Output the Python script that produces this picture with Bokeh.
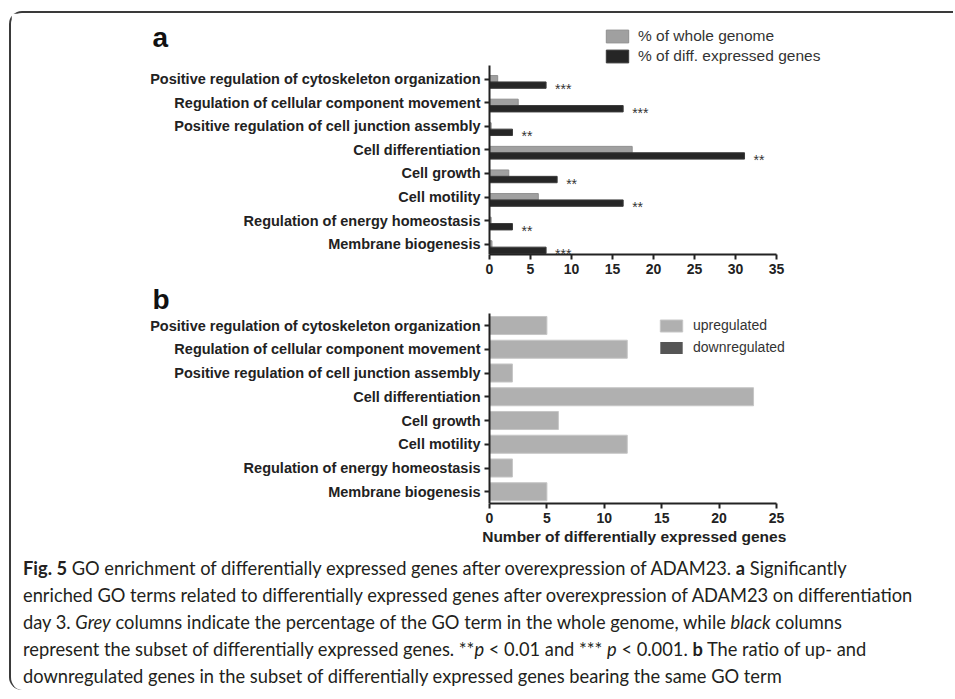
from bokeh.plotting import figure
from bokeh.models import Range1d, FixedTicker, Legend, LegendItem, Label, Div, ColumnDataSource, Title
from bokeh.layouts import column
from bokeh.embed import file_html
from bokeh.resources import INLINE
from bokeh.core.properties import value

# ---------------- data ----------------
categories = [
    "Positive regulation of cytoskeleton organization",
    "Regulation of cellular component movement",
    "Positive regulation of cell junction assembly",
    "Cell differentiation",
    "Cell growth",
    "Cell motility",
    "Regulation of energy homeostasis",
    "Membrane biogenesis",
]
whole_genome_pct = [1.0, 3.5, 0.2, 17.4, 2.35, 5.95, 0.2, 0.3]
diff_expressed_pct = [6.9, 16.3, 2.8, 31.1, 8.25, 16.3, 2.8, 6.9]
significance = ["***", "***", "**", "**", "**", "**", "**", "***"]
upregulated = [5, 12, 2, 23, 6, 12, 2, 5]
downregulated = [0, 0, 0, 0, 0, 0, 0, 0]
ticks_a = [0, 5, 10, 15, 20, 25, 30, 35]
ticks_b = [0, 5, 10, 15, 20, 25]
xlabel_b = "Number of differentially expressed genes"
legend_a = ["% of whole genome", "% of diff. expressed genes"]
legend_b = ["upregulated", "downregulated"]

FONT = "Liberation Sans"
DARK = "#222222"
idx = list(range(len(categories)))
overrides = {i: c for i, c in enumerate(categories)}

# layout geometry (page pixels)
FIG_LEFT = 11
FIG_W = 942
FRAME_L, FRAME_R = 140, 840
AXIS_X0, AXIS_X1 = 489, 776


def xrange_for(xmax):
    ppu = (AXIS_X1 - AXIS_X0) / xmax
    return Range1d((FRAME_L - AXIS_X0) / ppu, (FRAME_R - AXIS_X0) / ppu), ppu


def style_axes(p, xfont, yfont, xbounds, ybounds):
    p.xgrid.visible = False
    p.ygrid.visible = False
    p.outline_line_color = None
    p.background_fill_color = "white"
    p.border_fill_color = "white"
    for ax in (p.xaxis[0], p.yaxis[0]):
        ax.axis_line_width = 2
        ax.axis_line_color = DARK
        ax.major_tick_line_width = 2
        ax.major_tick_line_color = DARK
        ax.major_tick_out = 5
        ax.major_tick_in = 0
        ax.minor_tick_line_color = None
        ax.major_label_text_font = FONT
        ax.major_label_text_font_style = "bold"
        ax.major_label_text_color = DARK
    p.xaxis[0].major_label_text_font_size = xfont
    p.yaxis[0].major_label_text_font_size = yfont
    p.xaxis[0].major_label_standoff = 4
    p.yaxis[0].major_label_standoff = 4
    p.xaxis[0].bounds = xbounds
    p.yaxis[0].bounds = ybounds
    p.yaxis[0].fixed_location = 0
    p.yaxis[0].ticker = FixedTicker(ticks=idx)
    p.yaxis[0].major_label_overrides = overrides


# ---------------- panel a ----------------
A_TOP, A_BOT = 13, 281
A_FT, A_FB = 20, 254          # frame top / bottom (page px)
A_C0, A_PPU = 78.5, 23.6      # first category centre, px per category
xr_a, ppu_a = xrange_for(35)
yr_a = Range1d(7 + (A_FB - (A_C0 + 7 * A_PPU)) / A_PPU, (A_FT - A_C0) / A_PPU)
pa = figure(width=FIG_W, height=A_BOT - A_TOP, output_backend="svg", toolbar_location=None,
            x_range=xr_a, y_range=yr_a,
            min_border_left=FRAME_L - FIG_LEFT, min_border_right=FIG_LEFT + FIG_W - FRAME_R,
            min_border_top=A_FT - A_TOP, min_border_bottom=A_BOT - A_FB)
style_axes(pa, "14px", "14.5px", (0, 35), ((65 - A_C0) / A_PPU, yr_a.start))
pa.xaxis[0].ticker = FixedTicker(ticks=ticks_a)

src_a = ColumnDataSource(dict(
    yg=[i - 0.01 for i in idx], yb=[i + 0.26 for i in idx],
    whole=whole_genome_pct, diff=diff_expressed_pct, sig=significance))
r_grey = pa.hbar(y="yg", left=0, right="whole", height=0.27, source=src_a,
                 fill_color="#a0a0a0", line_color="#8f8f8f", line_width=1)
r_black = pa.hbar(y="yb", left=0, right="diff", height=0.27, source=src_a,
                  fill_color="#262626", line_color="#3a3a3a", line_width=1)
pa.text(x="diff", y="yb", text="sig", source=src_a, x_offset=9, y_offset=4,
        text_font=value(FONT), text_font_size="14px", text_color="#333333",
        text_baseline="middle", text_align="left")

leg_a = Legend(items=[LegendItem(label=legend_a[0], renderers=[r_grey]),
                      LegendItem(label=legend_a[1], renderers=[r_black])],
               location=(603 - FRAME_L, A_FB - 64.5), orientation="vertical",
               glyph_width=28, glyph_height=16, label_height=18, spacing=2,
               label_standoff=7, padding=0, margin=0,
               border_line_color=None, background_fill_alpha=0,
               label_text_font=FONT, label_text_font_size="15.5px",
               label_text_color="#333333")
pa.add_layout(leg_a)
pa.add_layout(Label(x=(152 - AXIS_X0) / ppu_a, y=(37 - A_C0) / A_PPU, text="a",
                    text_font=FONT, text_font_style="bold", text_font_size="28px",
                    text_color="#111111", text_baseline="alphabetic", text_align="left"))

# ---------------- panel b ----------------
B_TOP, B_BOT = 281, 552
B_FT, B_FB = 281, 503
B_C0, B_PPU = 325, 23.75
xr_b, ppu_b = xrange_for(25)
yr_b = Range1d(7 + (B_FB - (B_C0 + 7 * B_PPU)) / B_PPU, (B_FT - B_C0) / B_PPU)
pb = figure(width=FIG_W, height=B_BOT - B_TOP, output_backend="svg", toolbar_location=None,
            x_range=xr_b, y_range=yr_b,
            min_border_left=FRAME_L - FIG_LEFT, min_border_right=FIG_LEFT + FIG_W - FRAME_R,
            min_border_top=B_FT - B_TOP, min_border_bottom=B_BOT - B_FB)
style_axes(pb, "14px", "14.5px", (0, 25), ((313 - B_C0) / B_PPU, yr_b.start))
pb.xaxis[0].ticker = FixedTicker(ticks=ticks_b)
# x-axis title, left-aligned so that it is centred under the 0..25 axis
pb.add_layout(Title(text=xlabel_b, align="left", offset=481.7 - FRAME_L, standoff=0,
                    text_font=FONT, text_font_style="bold", text_font_size="15.5px",
                    text_color=DARK), "below")

src_b = ColumnDataSource(dict(
    y=idx, up=upregulated,
    upd=[u + d for u, d in zip(upregulated, downregulated)]))
r_up = pb.hbar(y="y", left=0, right="up", height=0.76, source=src_b,
               fill_color="#b0b0b0", line_color="#c6c6c6", line_width=1)
r_down = pb.hbar(y="y", left="up", right="upd", height=0.76, source=src_b,
                 fill_color="#555555", line_color=None)
leg_b = Legend(items=[LegendItem(label=legend_b[0], renderers=[r_up]),
                      LegendItem(label=legend_b[1], renderers=[r_down])],
               location=(657 - FRAME_L, B_FB - 357), orientation="vertical",
               glyph_width=28, glyph_height=15, label_height=20, spacing=2,
               label_standoff=8, padding=0, margin=0,
               border_line_color=None, background_fill_alpha=0,
               label_text_font=FONT, label_text_font_size="14px",
               label_text_color="#333333")
pb.add_layout(leg_b)
pb.add_layout(Label(x=(152 - AXIS_X0) / ppu_b, y=(299 - B_C0) / B_PPU, text="b",
                    text_font=FONT, text_font_style="bold", text_font_size="28px",
                    text_color="#111111", text_baseline="alphabetic", text_align="left"))

# ---------------- caption ----------------
caption_lines = [
    "<b>Fig. 5</b> GO enrichment of differentially expressed genes after overexpression of ADAM23. <b>a</b> Significantly",
    "enriched GO terms related to differentially expressed genes after overexpression of ADAM23 on differentiation",
    "day 3. <i>Grey</i> columns indicate the percentage of the GO term in the whole genome, while <i>black</i> columns",
    "represent the subset of differentially expressed genes. **<i>p</i> &lt; 0.01 and *** <i>p</i> &lt; 0.001. <b>b</b> The ratio of up- and",
    "downregulated genes in the subset of differentially expressed genes bearing the same GO term",
]
cap_html = ('<div style="font-family: Lato, sans-serif; font-size: 18.3px; line-height: 27px; '
            'color: #231f20; white-space: nowrap; padding: 3px 0 0 12px; margin: 0;">'
            + "<br>".join(caption_lines) + "</div>")
cap = Div(text=cap_html, width=FIG_W, height=138, margin=0,
          styles={"overflow": "hidden", "font-family": "Lato, sans-serif"})

layout = column(pa, pb, cap, margin=(11, 0, 0, 9), spacing=0,
                styles={"border-top": "2px solid #3a3a3a",
                        "border-left": "2px solid #3a3a3a",
                        "border-top-left-radius": "13px",
                        "border-bottom-left-radius": "13px"})

open("out.html", "w").write(file_html(layout, INLINE))
